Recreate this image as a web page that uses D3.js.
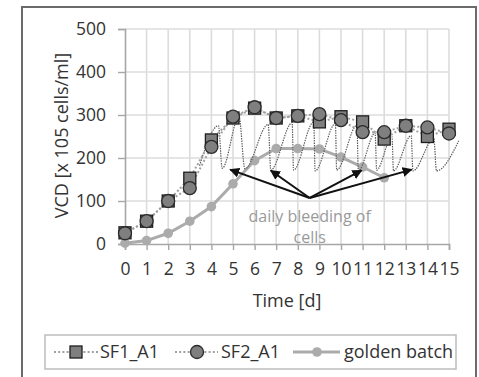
<!DOCTYPE html>
<html>
<head>
<meta charset="utf-8">
<script src="https://cdn.jsdelivr.net/npm/d3@7"></script>
<style>
  html, body { margin: 0; padding: 0; background: #fff; }
  svg { display: block; }
  text { font-family: "Open Sans", "Noto Sans", sans-serif; }
</style>
</head>
<body>
<svg id="chart" width="479" height="377"></svg>
<script>
// ---------------- data ----------------
const days = [0,1,2,3,4,5,6,7,8,9,10,11,12,13,14,15];
const sf1 = [26,53,100,153,242,293,316,293,298,284,296,284,244,275,250,267];
const sf2 = [25,53,100,130,226,296,318,293,298,302,288,260,260,275,271,257];
const goldenDays = [0,1,2,3,4,5,6,7,8,9,10,11,12];
const golden = [2,8,25,53,87,140,194,222,222,221,202,179,154];
const bleedDays = [3.45,4.33,4.5,5.28,5.55,6.63,6.75,7.74,7.8,8.74,8.8,9.74,9.8,10.74,10.8,11.58,11.65,12.36,12.43,13.25,13.33,14.3,14.42,15.45];
const bleedVCD = [182,275,176,296,175,278,172,282,172,284,170,280,172,276,170,258,172,250,170,252,170,245,170,240];
const arrowFrom = [8.55, 107];
const arrowToDays = [4.87, 6.75, 10.95, 13.27];
const arrowToVCD = [173, 171, 171, 173];
const yTicks = [0,100,200,300,400,500];
const xTicks = days;
const seriesNames = ["SF1_A1", "SF2_A1", "golden batch"];
const annotationLines = ["daily bleeding of", "cells"];
const xTitle = "Time [d]";
const yTitle = "VCD [x 105 cells/ml]";

// ---------------- layout ----------------
const svg = d3.select("#chart");
const x = d3.scaleLinear().domain([0, 15]).range([125, 449]);
const y = d3.scaleLinear().domain([0, 500]).range([244, 29]);

// outer frame
svg.append("rect").attr("x", 22).attr("y", 7).attr("width", 454).attr("height", 390)
  .attr("fill", "none").attr("stroke", "#6b6b6b").attr("stroke-width", 2);

// grid
const grid = svg.append("g");
grid.selectAll("line.h").data(yTicks.filter(d => d > 0)).join("line")
  .attr("x1", x(0)).attr("x2", x(15)).attr("y1", d => y(d)).attr("y2", d => y(d))
  .attr("stroke", "#dcdcdc").attr("stroke-width", 1.6);
grid.selectAll("line.v").data(xTicks.filter(d => d > 0)).join("line")
  .attr("x1", d => x(d)).attr("x2", d => x(d)).attr("y1", y(500)).attr("y2", y(0))
  .attr("stroke", "#dcdcdc").attr("stroke-width", 1.6);

// axes
const yAxis = svg.append("g").attr("transform", `translate(${x(0)},0)`)
  .call(d3.axisLeft(y).tickValues(yTicks).tickSize(7).tickPadding(12));
const xAxis = svg.append("g").attr("transform", `translate(0,${y(0)})`)
  .call(d3.axisBottom(x).tickValues(xTicks).tickSize(6).tickPadding(13));
[yAxis, xAxis].forEach(a => {
  a.select(".domain").attr("stroke", "#a6a6a6").attr("stroke-width", 1.6);
  a.selectAll(".tick line").attr("stroke", "#a6a6a6").attr("stroke-width", 1.4);
  a.selectAll(".tick text").attr("fill", "#333").attr("font-size", 17.5)
    .attr("font-family", '"Open Sans", sans-serif');
});

// axis titles
svg.append("text").attr("x", x(7.5)).attr("y", 307).attr("text-anchor", "middle")
  .attr("font-size", 18).attr("fill", "#333").text(xTitle);
svg.append("text").attr("transform", `translate(68,${(y(0) + y(500)) / 2 - 1}) rotate(-90)`)
  .attr("text-anchor", "middle").attr("font-size", 18).attr("fill", "#333").text(yTitle);

// golden batch line
const line = d3.line().x(d => x(d[0])).y(d => y(d[1]));
const goldenPts = goldenDays.map((d, i) => [d, golden[i]]);
svg.append("path").attr("d", line(goldenPts)).attr("fill", "none")
  .attr("stroke", "#ababab").attr("stroke-width", 3);
svg.selectAll("circle.gold").data(goldenPts).join("circle").attr("class", "gold")
  .attr("cx", d => x(d[0])).attr("cy", d => y(d[1])).attr("r", 4.8).attr("fill", "#ababab");

// bleeding wave
const bleedPts = bleedDays.map((d, i) => [d, bleedVCD[i]]);
svg.append("path").attr("d", d3.line().curve(d3.curveMonotoneX).x(d => x(d[0])).y(d => y(d[1]))(bleedPts))
  .attr("fill", "none").attr("stroke", "#5a5a5a").attr("stroke-width", 1.2)
  .attr("stroke-dasharray", "1.4,1.1");

// SF lines
const sf1Pts = days.map((d, i) => [d, sf1[i]]);
const sf2Pts = days.map((d, i) => [d, sf2[i]]);
[sf1Pts, sf2Pts].forEach(p => {
  svg.append("path").attr("d", line(p)).attr("fill", "none")
    .attr("stroke", "#a0a0a0").attr("stroke-width", 2).attr("stroke-dasharray", "2,2.2");
});
svg.selectAll("rect.sf1").data(sf1Pts).join("rect").attr("class", "sf1")
  .attr("x", d => x(d[0]) - 6).attr("y", d => y(d[1]) - 6).attr("width", 12).attr("height", 12)
  .attr("fill", "#7f7f7f").attr("stroke", "#1e1e1e").attr("stroke-width", 1.3);
svg.selectAll("circle.sf2").data(sf2Pts).join("circle").attr("class", "sf2")
  .attr("cx", d => x(d[0])).attr("cy", d => y(d[1])).attr("r", 6.5)
  .attr("fill", "#7f7f7f").attr("stroke", "#2a2a2a").attr("stroke-width", 1.3);

// arrows
svg.append("defs").append("marker").attr("id", "ah").attr("viewBox", "0 0 10 10")
  .attr("refX", 9).attr("refY", 5).attr("markerWidth", 5).attr("markerHeight", 5)
  .attr("markerUnits", "strokeWidth").attr("orient", "auto")
  .append("path").attr("d", "M0,0 L10,5 L0,10 z").attr("fill", "#111");
arrowToDays.forEach((d, i) => {
  svg.append("line").attr("x1", x(arrowFrom[0])).attr("y1", y(arrowFrom[1]))
    .attr("x2", x(d)).attr("y2", y(arrowToVCD[i]))
    .attr("stroke", "#111").attr("stroke-width", 2).attr("marker-end", "url(#ah)");
});

// annotation
svg.selectAll("text.ann").data(annotationLines).join("text").attr("class", "ann")
  .attr("x", x(8.55)).attr("y", (d, i) => 222 + i * 21).attr("text-anchor", "middle")
  .attr("font-size", 16).attr("fill", "#9a9a9a").text(d => d);

// legend
const lg = svg.append("g");
lg.append("rect").attr("x", 45).attr("y", 335).attr("width", 411).attr("height", 34)
  .attr("fill", "#fff").attr("stroke", "#bdbdbd").attr("stroke-width", 1.5);
const legendItems = [
  { x0: 54, x1: 98, mx: 76, tx: 100, kind: "square" },
  { x0: 175, x1: 218, mx: 197, tx: 221, kind: "circle" },
  { x0: 293, x1: 340, mx: 317, tx: 344, kind: "gold" }
];
legendItems.forEach((it, i) => {
  const ly = 352;
  const l = lg.append("line").attr("x1", it.x0).attr("x2", it.x1).attr("y1", ly).attr("y2", ly);
  if (it.kind === "gold") l.attr("stroke", "#ababab").attr("stroke-width", 3);
  else l.attr("stroke", "#a0a0a0").attr("stroke-width", 2).attr("stroke-dasharray", "2,2.2");
  if (it.kind === "square") lg.append("rect").attr("x", it.mx - 6).attr("y", ly - 6).attr("width", 12).attr("height", 12)
    .attr("fill", "#7f7f7f").attr("stroke", "#1e1e1e").attr("stroke-width", 1.3);
  if (it.kind === "circle") lg.append("circle").attr("cx", it.mx).attr("cy", ly).attr("r", 6.5)
    .attr("fill", "#7f7f7f").attr("stroke", "#2a2a2a").attr("stroke-width", 1.3);
  if (it.kind === "gold") lg.append("circle").attr("cx", it.mx).attr("cy", ly).attr("r", 4.8).attr("fill", "#ababab");
  lg.append("text").attr("x", it.tx).attr("y", 358).attr("font-size", 18).attr("fill", "#333").text(seriesNames[i]);
});
</script>
</body>
</html>
